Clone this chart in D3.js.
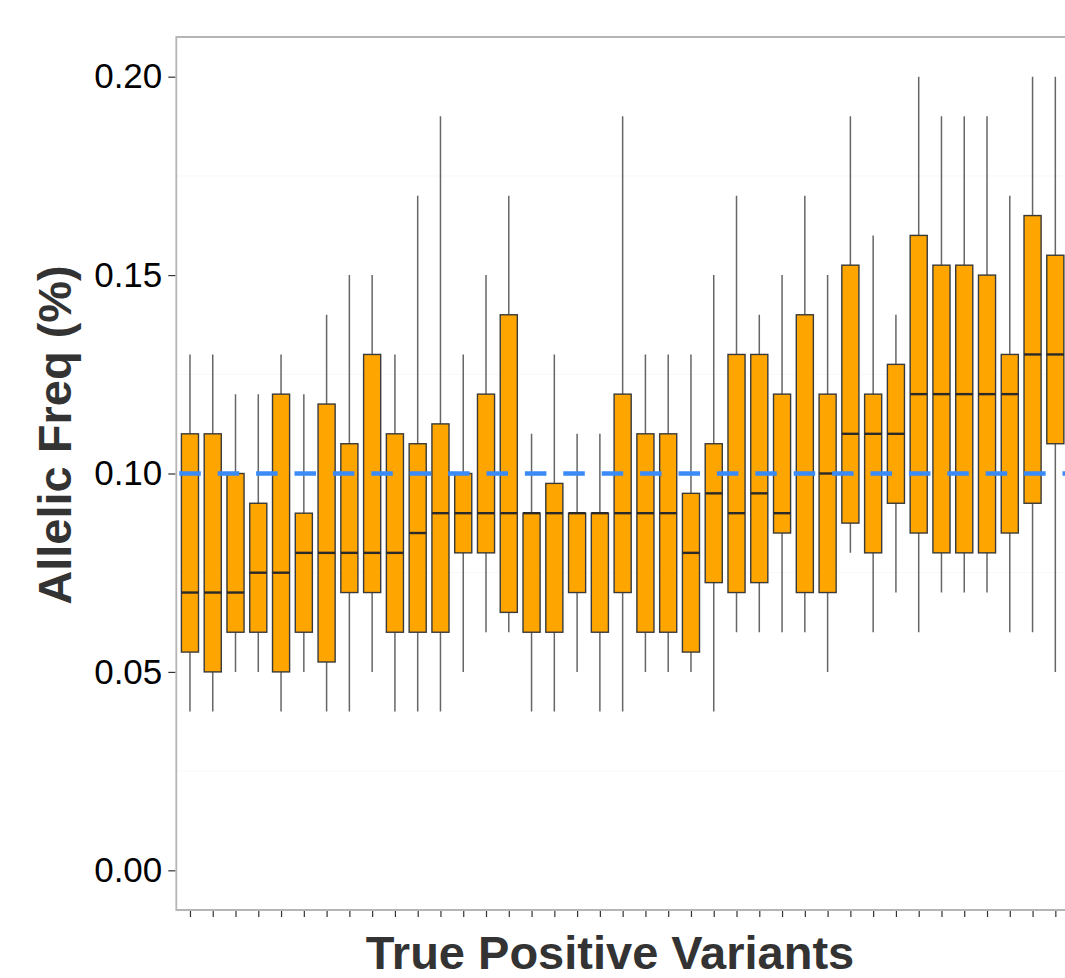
<!DOCTYPE html>
<html>
<head>
<meta charset="utf-8">
<script src="https://cdn.jsdelivr.net/npm/d3@7"></script>
<style>
  html, body { margin: 0; padding: 0; background: #fff; }
  svg { display: block; }
</style>
</head>
<body>
<div id="chart"></div>
<script>
// one box per true positive variant
const variants = d3.range(1, 40).map(String);
const whiskerLow = [0.04, 0.04, 0.05, 0.05, 0.04, 0.05, 0.04, 0.04, 0.05, 0.04,
  0.04, 0.04, 0.05, 0.06, 0.06, 0.04, 0.04, 0.05, 0.04, 0.04,
  0.05, 0.05, 0.05, 0.04, 0.06, 0.06, 0.06, 0.06, 0.05, 0.08,
  0.06, 0.07, 0.06, 0.07, 0.07, 0.07, 0.06, 0.06, 0.05];
const q1 = [0.055, 0.05, 0.06, 0.06, 0.05, 0.06, 0.0525, 0.07, 0.07, 0.06,
  0.06, 0.06, 0.08, 0.08, 0.065, 0.06, 0.06, 0.07, 0.06, 0.07,
  0.06, 0.06, 0.055, 0.0725, 0.07, 0.0725, 0.085, 0.07, 0.07, 0.0875,
  0.08, 0.0925, 0.085, 0.08, 0.08, 0.08, 0.085, 0.0925, 0.1075];
const median = [0.07, 0.07, 0.07, 0.075, 0.075, 0.08, 0.08, 0.08, 0.08, 0.08,
  0.085, 0.09, 0.09, 0.09, 0.09, 0.09, 0.09, 0.09, 0.09, 0.09,
  0.09, 0.09, 0.08, 0.095, 0.09, 0.095, 0.09, 0.10, 0.10, 0.11,
  0.11, 0.11, 0.12, 0.12, 0.12, 0.12, 0.12, 0.13, 0.13];
const q3 = [0.11, 0.11, 0.10, 0.0925, 0.12, 0.09, 0.1175, 0.1075, 0.13, 0.11,
  0.1075, 0.1125, 0.10, 0.12, 0.14, 0.09, 0.0975, 0.09, 0.09, 0.12,
  0.11, 0.11, 0.095, 0.1075, 0.13, 0.13, 0.12, 0.14, 0.12, 0.1525,
  0.12, 0.1275, 0.16, 0.1525, 0.1525, 0.15, 0.13, 0.165, 0.155];
const whiskerHigh = [0.13, 0.13, 0.12, 0.12, 0.13, 0.12, 0.14, 0.15, 0.15, 0.13,
  0.17, 0.19, 0.13, 0.15, 0.17, 0.11, 0.13, 0.11, 0.11, 0.19,
  0.13, 0.13, 0.13, 0.15, 0.17, 0.14, 0.15, 0.17, 0.15, 0.19,
  0.16, 0.14, 0.20, 0.19, 0.19, 0.19, 0.17, 0.20, 0.20];
const yTicks = [0, 0.05, 0.10, 0.15, 0.20];
const yMinorTicks = [0.025, 0.075, 0.125, 0.175];
const referenceFreq = 0.10;

const width = 1065, height = 978;
const panel = { left: 176.3, right: 1069, top: 37, bottom: 910 };

const svg = d3.select('#chart').append('svg')
    .attr('width', width)
    .attr('height', height)
    .style('font-family', '"Liberation Sans", Arial, sans-serif');

const x = d3.scalePoint()
    .domain(variants)
    .range([panel.left, panel.right])
    .padding(0.6);
const y = d3.scaleLinear()
    .domain([-0.01, 0.21])
    .range([panel.bottom, panel.top]);

const boxWidth = x.step() * 0.75;

const boxes = variants.map((v, i) => ({
    id: v, low: whiskerLow[i], q1: q1[i], med: median[i], q3: q3[i], high: whiskerHigh[i]
}));

// faint grid
svg.append('g').selectAll('line')
    .data(yMinorTicks)
    .join('line')
    .attr('x1', panel.left).attr('x2', panel.right)
    .attr('y1', d => y(d)).attr('y2', d => y(d))
    .attr('stroke', '#f8f8f8')
    .attr('stroke-width', 1);

// whiskers
svg.append('g').selectAll('line')
    .data(boxes)
    .join('line')
    .attr('x1', d => x(d.id)).attr('x2', d => x(d.id))
    .attr('y1', d => y(d.low)).attr('y2', d => y(d.high))
    .attr('stroke', '#666')
    .attr('stroke-width', 1.5);

// boxes
svg.append('g').selectAll('rect')
    .data(boxes)
    .join('rect')
    .attr('x', d => x(d.id) - boxWidth / 2)
    .attr('width', boxWidth)
    .attr('y', d => y(d.q3))
    .attr('height', d => y(d.q1) - y(d.q3))
    .attr('fill', '#FFA500')
    .attr('stroke', '#3a3a3a')
    .attr('stroke-width', 1.4);

// medians
svg.append('g').selectAll('line')
    .data(boxes)
    .join('line')
    .attr('x1', d => x(d.id) - boxWidth / 2).attr('x2', d => x(d.id) + boxWidth / 2)
    .attr('y1', d => y(d.med)).attr('y2', d => y(d.med))
    .attr('stroke', '#2a2a2a')
    .attr('stroke-width', 2.4);

// dashed reference line
svg.append('line')
    .attr('x1', panel.left).attr('x2', panel.right)
    .attr('y1', y(referenceFreq)).attr('y2', y(referenceFreq))
    .attr('stroke', '#3a8bf7')
    .attr('stroke-width', 4.5)
    .attr('stroke-dasharray', '21.5 16.9')
    .attr('stroke-dashoffset', 35.4);

// panel border (left, top, bottom)
svg.append('path')
    .attr('d', `M${panel.right},${panel.top}H${panel.left}V${panel.bottom}H${panel.right}`)
    .attr('fill', 'none')
    .attr('stroke', '#b5b5b5')
    .attr('stroke-width', 1.8);

// y axis
const yAxis = svg.append('g')
    .attr('transform', `translate(${panel.left - 1},0)`)
    .call(d3.axisLeft(y).tickValues(yTicks).tickFormat(d3.format('.2f')).tickSize(7).tickPadding(6));
yAxis.select('.domain').remove();
yAxis.selectAll('.tick line').attr('stroke', '#333').attr('stroke-width', 1.2);
yAxis.selectAll('.tick text')
    .attr('fill', '#000')
    .style('font-size', '35px')
    .style('font-family', '"Liberation Sans", Arial, sans-serif');

// x axis (ticks only)
const xAxis = svg.append('g')
    .attr('transform', `translate(0,${panel.bottom + 1})`)
    .call(d3.axisBottom(x).tickSize(6).tickFormat(''));
xAxis.select('.domain').remove();
xAxis.selectAll('.tick line').attr('stroke', '#333').attr('stroke-width', 1.2);

// titles
svg.append('text')
    .attr('x', 610)
    .attr('y', 969)
    .attr('text-anchor', 'middle')
    .attr('fill', '#333')
    .style('font-size', '47px')
    .style('font-weight', 'bold')
    .text('True Positive Variants');

svg.append('text')
    .attr('transform', 'translate(71,435) rotate(-90)')
    .attr('text-anchor', 'middle')
    .attr('fill', '#333')
    .style('font-size', '47px')
    .style('font-weight', 'bold')
    .text('Allelic Freq (%)');
</script>
</body>
</html>
